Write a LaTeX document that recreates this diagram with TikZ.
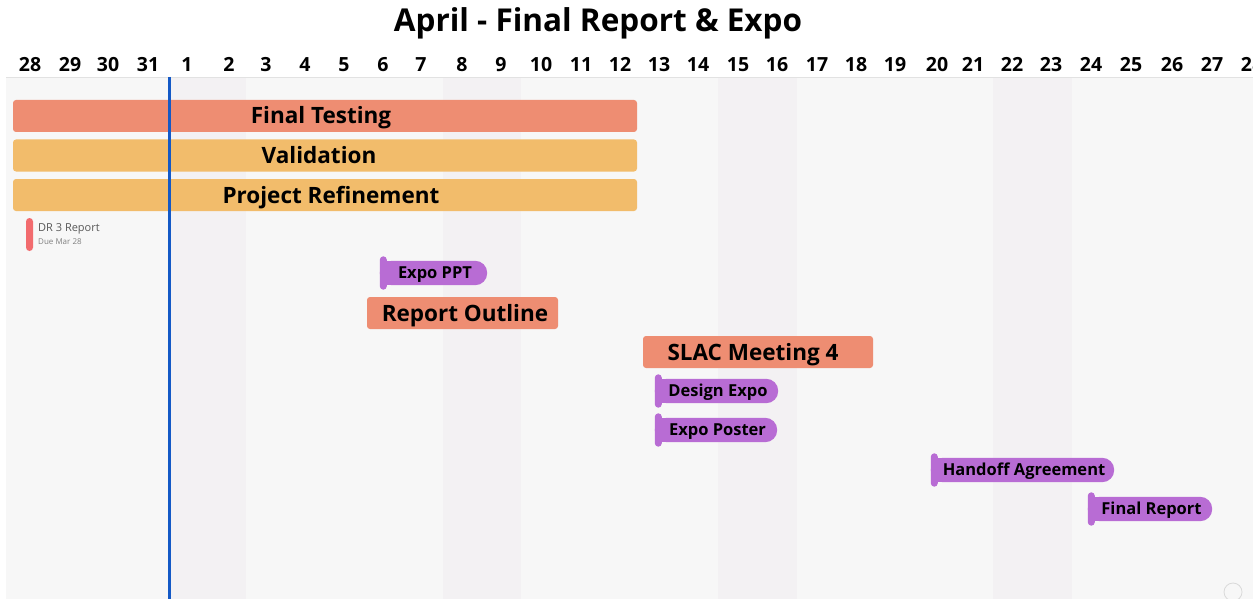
\documentclass[tikz,border=0pt]{standalone}
\usepackage{fontspec}
\setmainfont{Open Sans}
\definecolor{salmon}{HTML}{EE8D72}
\definecolor{amber}{HTML}{F2BC6B}
\definecolor{purp}{HTML}{B86CD4}
\definecolor{redmark}{HTML}{F26B6E}
\definecolor{canvas}{HTML}{F7F7F7}
\definecolor{stripe}{HTML}{F3F1F3}
\definecolor{todayblue}{HTML}{1459C6}
\definecolor{rule}{HTML}{E2E2E2}
\pgfdeclarelayer{back}
\pgfdeclarelayer{mid}
\pgfsetlayers{back,mid,main}
\begin{document}
\begin{tikzpicture}[x=1pt,y=-1pt,
  daylabel/.style={font=\bfseries\fontsize{19.5}{19.5}\selectfont, inner sep=0pt, anchor=base},
  taskbar/.style={rounded corners=3pt, inner sep=0pt, font=\bfseries\fontsize{22.5}{22.5}\selectfont, text=black, text height=16pt, text depth=0pt},
  milestone/.style={inner sep=0pt, font=\bfseries\fontsize{16.5}{16.5}\selectfont, text=black, minimum height=24pt, text height=11.8pt, text depth=0pt},
]
\useasboundingbox (0,0) rectangle (1253,599);
\clip (0,0) rectangle (1253,599);
\begin{pgfonlayer}{back}
  \fill[white] (0,0) rectangle (1253,599);
  \fill[canvas] (6,77) rectangle (1253,599);
  \foreach \a/\b in {168/246, 443/521, 718/797, 993/1072}
    \fill[stripe] (\a,77.5) rectangle (\b,599);
  \draw[rule, line width=0.8pt] (6,77) -- (1253,77);
\end{pgfonlayer}

\node[font=\bfseries\fontsize{31.5}{31.5}\selectfont, inner sep=0pt, anchor=base] (title) at (598,32) {April - Final Report \& Expo};

\foreach \d/\x [count=\i] in {28/30, 29/70, 30/108, 31/148, 1/187, 2/229, 3/266, 4/305, 5/344, 6/383, 7/421, 8/462, 9/501, 10/541, 11/581, 12/620, 13/659, 14/698, 15/738, 16/777, 17/817, 18/856, 19/895, 20/937, 21/973, 22/1012, 23/1051, 24/1091, 25/1131, 26/1172, 27/1212, 28/1252}
  \node[daylabel] (day\i) at (\x,72) {\d};

\node[taskbar, fill=salmon, minimum width=624pt, minimum height=32pt] (ft) at (325,116) {\hspace*{-8pt}Final Testing};
\node[taskbar, fill=amber, minimum width=624pt, minimum height=32pt] (val) at (325,155.5) {\hspace*{-12pt}Validation};
\node[taskbar, fill=amber, minimum width=624pt, minimum height=32pt] (pr) at (325,195) {\hspace*{12pt}Project Refinement};

\fill[redmark, rounded corners=3.5pt] (26,218) rectangle (33,251);
\node[anchor=west, inner sep=0pt, font=\fontsize{11}{11}\selectfont, text=black!65] (dr) at (38,228.5) {DR 3 Report};
\node[anchor=west, inner sep=0pt, font=\fontsize{8}{8}\selectfont, text=black!50] (due) at (38,241.5) {Due Mar 28};

\node[taskbar, fill=salmon, minimum width=191pt, minimum height=32pt] (ro) at (462.5,313) {\hspace*{5pt}Report Outline};
\node[taskbar, fill=salmon, minimum width=230pt, minimum height=32pt] (slac) at (758,352) {\hspace*{-10pt}SLAC Meeting 4};

\foreach \n/\xa/\xb/\y/\t in {ppt/380/487/273/Expo PPT, de/655/778/391/Design Expo, ep/655/777/430/Expo Poster, ha/931/1114/470/Handoff Agreement, fr/1088/1212/509/Final Report}{
  \node[milestone, minimum width={(\xb-\xa)*1pt}] (\n) at ({(\xa+\xb)/2},\y) {\hspace*{3pt}\t};
  \begin{pgfonlayer}{mid}
    \fill[purp, rounded corners=12pt] (\n.south west) rectangle (\n.north east);
    \fill[purp] (\n.south west) rectangle (\n.north);
    \fill[purp, rounded corners=3.5pt] ([yshift=4.5pt]\n.north west) rectangle ([xshift=7pt,yshift=-4.5pt]\n.south west);
  \end{pgfonlayer}
}

\coordinate (todaytop) at (169,77);
\coordinate (todaybot) at (169,599);
\draw[todayblue, line width=3pt] (todaytop) -- (todaybot);

\draw[black!15, line width=0.8pt] (1233,592) circle (9pt);
\end{tikzpicture}
\end{document}
